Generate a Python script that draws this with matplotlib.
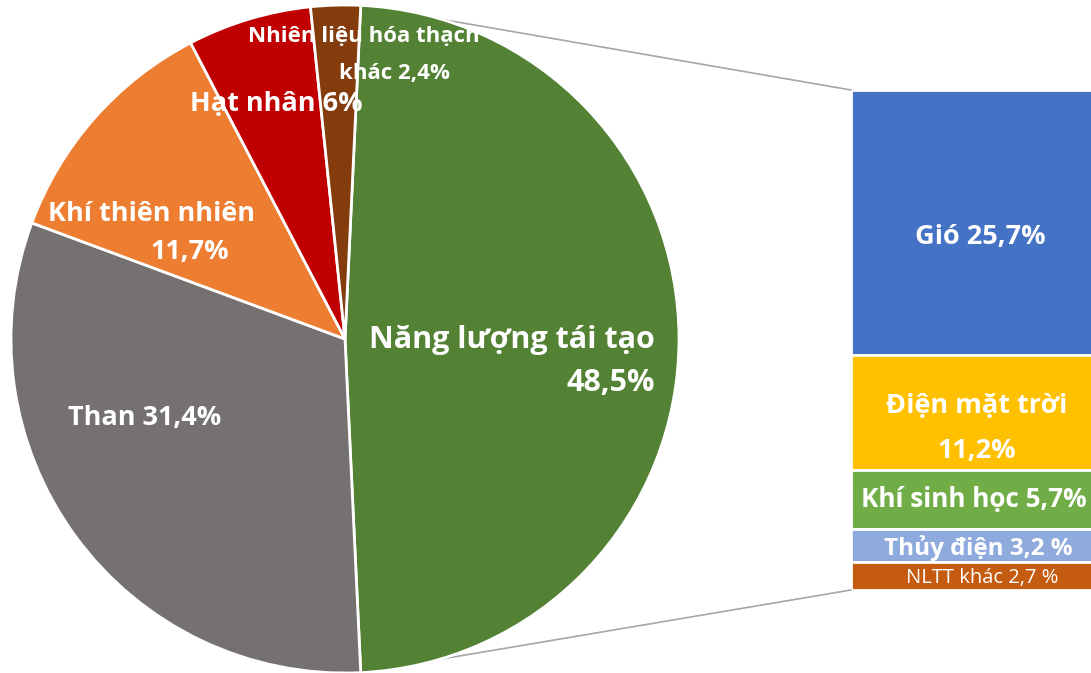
import numpy as np
import matplotlib
matplotlib.use('Agg')
import matplotlib.pyplot as plt
from matplotlib.patches import ConnectionPatch

plt.rcParams['font.family'] = ['Open Sans', 'DejaVu Sans']

# pie data
pie_labels = ['Năng lượng tái tạo', 'Than', 'Khí thiên nhiên', 'Hạt nhân',
              'Nhiên liệu hóa thạch khác']
pie_values = [48.5, 31.4, 11.7, 6.0, 2.4]
pie_colors = ['#548235', '#767171', '#ED7D31', '#C00000', '#843C0C']

# bar (breakdown of renewables)
bar_labels = ['Gió', 'Điện mặt trời', 'Khí sinh học', 'Thủy điện', 'NLTT khác']
bar_values = [25.7, 11.2, 5.7, 3.2, 2.7]
bar_colors = ['#4472C4', '#FFC000', '#70AD47', '#8FAADC', '#C55A11']

W, H = 1091, 673
fig = plt.figure(figsize=(W / 100, H / 100), dpi=100)

# main axes in pixel-like units (y up)
ax = fig.add_axes([0, 0, 1, 1])
ax.set_zorder(2)
ax.patch.set_alpha(0)

cx, cy, r = 345, H - 339, 334
start = pie_values[0] / 100 * 360 / 2
wedges, _ = ax.pie(pie_values, colors=pie_colors, startangle=start,
                   counterclock=False, center=(cx, cy), radius=r,
                   wedgeprops=dict(edgecolor='white', linewidth=2),
                   frame=True)
ax.set_xlim(0, W)
ax.set_ylim(0, H)
ax.set_aspect('equal')
ax.axis('off')

# bar axes
bx0, bx1 = 851, 1111
by0, by1 = 90, 590
bax = fig.add_axes([bx0 / W, 1 - by1 / H, (bx1 - bx0) / W, (by1 - by0) / H])
total = sum(bar_values)
bottom = total
for v, c in zip(bar_values, bar_colors):
    bottom -= v
    bax.bar(0, v, bottom=bottom, width=1, color=c, edgecolor='white',
            linewidth=2)
bax.set_xlim(-0.5, 0.5)
bax.set_ylim(0, total)
bax.axis('off')

# connector lines from the green slice edges to the bar (behind the pie)
t1 = np.deg2rad(start)
t2 = np.deg2rad(start - pie_values[0] * 3.6)
for t, yb in [(t1, total), (t2, 0)]:
    con = ConnectionPatch(xyA=(cx + r * np.cos(t), cy + r * np.sin(t)), coordsA=ax.transData,
                          xyB=(-0.5, yb), coordsB=bax.transData,
                          color='#A6A6A6', linewidth=1.2)
    con.set_zorder(1)
    fig.add_artist(con)

txt = dict(color='white', fontweight='bold', zorder=5)
def px(x, y):
    return x, H - y

ax.text(*px(655, 340), 'Năng lượng tái tạo', ha='right', va='center', fontsize=22, **txt)
ax.text(*px(655, 383), '48,5%', ha='right', va='center', fontsize=22, **txt)
ax.text(*px(145, 418), 'Than 31,4%', ha='center', va='center', fontsize=19.5, **txt)
ax.text(*px(151, 214), 'Khí thiên nhiên', ha='center', va='center', fontsize=19.5, **txt)
ax.text(*px(190, 252), '11,7%', ha='center', va='center', fontsize=19.5, **txt)
ax.text(*px(276, 104), 'Hạt nhân 6%', ha='center', va='center', fontsize=19.5, **txt)
ax.text(*px(364, 36), 'Nhiên liệu hóa thạch', ha='center', va='center', fontsize=16, **txt)
ax.text(*px(394, 74), 'khác 2,4%', ha='center', va='center', fontsize=16, **txt)

# bar labels
ax.text(*px(980, 237), 'Gió 25,7%', ha='center', va='center', fontsize=19.5, **txt)
ax.text(*px(977, 406), 'Điện mặt trời', ha='center', va='center', fontsize=19.5, **txt)
ax.text(*px(977, 451), '11,2%', ha='center', va='center', fontsize=19.5, **txt)
ax.text(*px(861, 500), 'Khí sinh học 5,7%', ha='left', va='center', fontsize=18.8, **txt)
ax.text(*px(978, 548), 'Thủy điện 3,2 %', ha='center', va='center', fontsize=17.5, **txt)
ax.text(*px(982, 578), 'NLTT khác 2,7 %', ha='center', va='center', fontsize=14.5,
        color='white', zorder=5)

fig.savefig('out.png', dpi=100)
